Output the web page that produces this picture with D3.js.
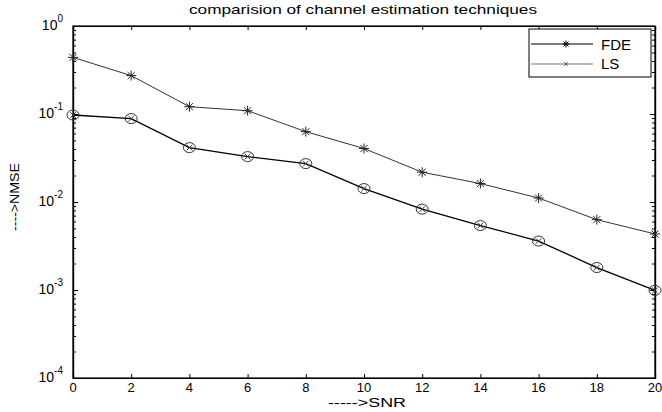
<!DOCTYPE html>
<html>
<head>
<meta charset="utf-8">
<script src="https://cdn.jsdelivr.net/npm/d3@7"></script>
<style>
  body { margin: 0; background: #fff; }
  svg { font-family: "Liberation Sans", Arial, sans-serif; }
</style>
</head>
<body>
<div id="chart"></div>
<script>
// Data
const snr = [0, 2, 4, 6, 8, 10, 12, 14, 16, 18, 20];
const fde = [0.44, 0.273, 0.121, 0.109, 0.063, 0.0405, 0.0218, 0.0162, 0.0111, 0.0063, 0.00433];
const ls = [0.0974, 0.0887, 0.0415, 0.0328, 0.0273, 0.0142, 0.0083, 0.0054, 0.0036, 0.0018, 0.00099];
const xTicks = [0, 2, 4, 6, 8, 10, 12, 14, 16, 18, 20];
const yDecades = [-4, -3, -2, -1, 0];

const width = 662, height = 412;
const margin = { top: 26, right: 7, bottom: 34, left: 73 };
const innerW = width - margin.left - margin.right;
const innerH = height - margin.top - margin.bottom;

const svg = d3.select('#chart').append('svg')
    .attr('width', width)
    .attr('height', height);

const x = d3.scaleLinear().domain([0, 20]).range([margin.left, margin.left + innerW]);
const y = d3.scaleLog().domain([1e-4, 1]).range([margin.top + innerH, margin.top]);

// Minor tick values (2..9 in each decade)
const minor = [];
for (let d = -4; d < 0; d++) {
    for (let m = 2; m <= 9; m++) minor.push(m * Math.pow(10, d));
}

// Axes with inward ticks
const fmtNone = () => '';
svg.append('g')
    .attr('transform', `translate(0,${margin.top + innerH})`)
    .call(d3.axisBottom(x).tickValues(xTicks).tickSize(-4).tickFormat(fmtNone));
svg.append('g')
    .attr('transform', `translate(0,${margin.top})`)
    .call(d3.axisTop(x).tickValues(xTicks).tickSize(-4).tickFormat(fmtNone));
svg.append('g')
    .attr('transform', `translate(${margin.left},0)`)
    .call(d3.axisLeft(y).tickValues(yDecades.map(e => Math.pow(10, e))).tickSize(-5).tickFormat(fmtNone));
svg.append('g')
    .attr('transform', `translate(${margin.left},0)`)
    .call(d3.axisLeft(y).tickValues(minor).tickSize(-3).tickFormat(fmtNone));
svg.append('g')
    .attr('transform', `translate(${margin.left + innerW},0)`)
    .call(d3.axisRight(y).tickValues(yDecades.map(e => Math.pow(10, e))).tickSize(-5).tickFormat(fmtNone));
svg.append('g')
    .attr('transform', `translate(${margin.left + innerW},0)`)
    .call(d3.axisRight(y).tickValues(minor).tickSize(-3).tickFormat(fmtNone));

svg.selectAll('.domain').attr('stroke', '#000').attr('stroke-width', 1.2);
svg.selectAll('.tick line').attr('stroke', '#000');

// Plot frame
svg.append('rect')
    .attr('x', margin.left).attr('y', margin.top)
    .attr('width', innerW).attr('height', innerH)
    .attr('fill', 'none').attr('stroke', '#000').attr('stroke-width', 1.2);

// X tick labels
svg.append('g').selectAll('text')
    .data(xTicks).enter().append('text')
    .attr('x', d => x(d))
    .attr('y', margin.top + innerH + 14)
    .attr('text-anchor', 'middle')
    .style('font-size', '13px')
    .text(d => d);

// Y tick labels 10^e
const yl = svg.append('g').selectAll('text')
    .data(yDecades).enter().append('text')
    .attr('x', margin.left - 10)
    .attr('y', d => y(Math.pow(10, d)) + 4)
    .attr('text-anchor', 'end')
    .style('font-size', '14px');
yl.append('tspan').text('10');
yl.append('tspan')
    .attr('dy', -8)
    .style('font-size', '10px')
    .text(d => d);

// Lines
const line = d3.line().x((d, i) => x(snr[i])).y(d => y(d));

svg.append('path')
    .datum(fde)
    .attr('fill', 'none')
    .attr('stroke', '#333')
    .attr('stroke-width', 1)
    .attr('d', line);

svg.append('path')
    .datum(ls)
    .attr('fill', 'none')
    .attr('stroke', '#000')
    .attr('stroke-width', 1.3)
    .attr('d', line);

// Asterisk marker
function star(g, cx, cy, r, color) {
    [0, 45, 90, 135].forEach(a => {
        const rad = a * Math.PI / 180;
        g.append('line')
            .attr('x1', cx - r * Math.cos(rad)).attr('y1', cy - r * Math.sin(rad))
            .attr('x2', cx + r * Math.cos(rad)).attr('y2', cy + r * Math.sin(rad))
            .attr('stroke', color).attr('stroke-width', 1);
    });
}
function cross(g, cx, cy, r, color) {
    [45, 135].forEach(a => {
        const rad = a * Math.PI / 180;
        g.append('line')
            .attr('x1', cx - r * Math.cos(rad)).attr('y1', cy - r * Math.sin(rad))
            .attr('x2', cx + r * Math.cos(rad)).attr('y2', cy + r * Math.sin(rad))
            .attr('stroke', color).attr('stroke-width', 1);
    });
}

const mk = svg.append('g');
fde.forEach((v, i) => star(mk, x(snr[i]), y(v), 5, '#222'));
ls.forEach((v, i) => {
    mk.append('ellipse')
        .attr('cx', x(snr[i])).attr('cy', y(v))
        .attr('rx', 6).attr('ry', 5)
        .attr('fill', 'none').attr('stroke', '#333').attr('stroke-width', 1);
    cross(mk, x(snr[i]), y(v), 4, '#333');
});

// Legend
const lg = svg.append('g');
lg.append('rect')
    .attr('x', 529).attr('y', 29)
    .attr('width', 122).attr('height', 48)
    .attr('fill', '#fff').attr('stroke', '#000').attr('stroke-width', 1);
lg.append('line').attr('x1', 531).attr('x2', 593).attr('y1', 44).attr('y2', 44)
    .attr('stroke', '#000').attr('stroke-width', 1);
star(lg, 566, 44, 3.5, '#000');
lg.append('line').attr('x1', 531).attr('x2', 593).attr('y1', 64).attr('y2', 64)
    .attr('stroke', '#777').attr('stroke-width', 1);
cross(lg, 566, 64, 2.5, '#555');
lg.append('text').attr('x', 601).attr('y', 50).style('font-size', '15px').text('FDE');
lg.append('text').attr('x', 601).attr('y', 69).style('font-size', '15px').text('LS');

// Title and axis labels
svg.append('text')
    .attr('x', 363).attr('y', 14)
    .attr('text-anchor', 'middle')
    .attr('textLength', 348)
    .attr('lengthAdjust', 'spacingAndGlyphs')
    .style('font-size', '13px')
    .text('comparision of channel estimation techniques');

svg.append('text')
    .attr('x', 367).attr('y', 407)
    .attr('text-anchor', 'middle')
    .attr('textLength', 78)
    .attr('lengthAdjust', 'spacingAndGlyphs')
    .style('font-size', '12px')
    .text('----->SNR');

svg.append('text')
    .attr('transform', 'translate(19,197) rotate(-90)')
    .attr('text-anchor', 'middle')
    .attr('textLength', 68)
    .attr('lengthAdjust', 'spacingAndGlyphs')
    .style('font-size', '13px')
    .text('---->NMSE');
</script>
</body>
</html>
